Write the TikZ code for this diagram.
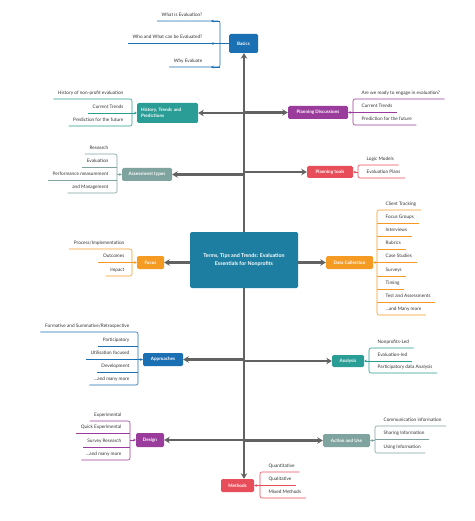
\documentclass[tikz,border=0pt]{standalone}
\usepackage{fontspec}
\setmainfont{Lato}
\usetikzlibrary{arrows.meta}

\definecolor{cblue}{HTML}{1B6FB3}
\definecolor{cteal}{HTML}{2A9D96}
\definecolor{cpurple}{HTML}{9A3C9C}
\definecolor{csage}{HTML}{7FA39F}
\definecolor{cred}{HTML}{E84E5A}
\definecolor{corange}{HTML}{F59A23}
\definecolor{chub}{HTML}{1E7EA1}
\definecolor{cspine}{HTML}{626262}
\definecolor{cleaf}{HTML}{333333}

\tikzset{
    topic/.style={rounded corners=1.5pt, fill=#1, text=white, inner sep=1pt,
        font=\fontsize{4.6}{5.6}\selectfont\bfseries, minimum height=13pt},
    leafL/.style={anchor=south east, inner xsep=4.5pt, inner ysep=3pt, text=cleaf,
        text height=3.6pt, text depth=1.5pt, font=\fontsize{4.7}{5.6}\selectfont},
    leafR/.style={leafL, anchor=south west},
    spine/.style={draw=cspine, line width=2.4pt, -{Stealth[length=5.5pt,width=6.5pt]}},
    twig/.style={draw=#1, line width=0.6pt, rounded corners=2pt},
    tip/.style={-{Stealth[length=2.6pt,width=2.8pt]}},
}

\begin{document}
\begin{tikzpicture}[x=1pt,y=-1pt]
    \useasboundingbox[fill=white] (0,0) rectangle (474,521);

    % centro
    \node[topic=chub, minimum width=108pt, minimum height=56pt, align=center,
        font=\fontsize{5.3}{7.4}\selectfont\bfseries] (hub) at (244,260)
        {Terms, Tips and Trends: Evaluation\\Essentials for Nonprofits};

    % ramas
    \node[topic=cblue, minimum width=29pt, minimum height=19pt] (basics) at (243.5,43.5) {Basics};
    \node[topic=cteal, text width=53pt, inner xsep=4pt, minimum height=20pt, align=left] (hist) at (167.5,113)
        {History, Trends and\\Predictions};
    \node[topic=cpurple, minimum width=60pt] (plandisc) at (318,112.5) {Planning Discussions};
    \node[topic=csage, minimum width=50pt] (assess) at (147,174.5) {Assessment types};
    \node[topic=cred, minimum width=46pt, minimum height=12pt] (tools) at (330,172) {Planning tools};
    \node[topic=corange, minimum width=27pt] (focus) at (150.5,262.5) {Focus};
    \node[topic=corange, minimum width=47pt] (datacol) at (349.5,262.5) {Data Collection};
    \node[topic=cblue, minimum width=40pt] (approach) at (163,359.5) {Approaches};
    \node[topic=cteal, minimum width=32pt, minimum height=12pt] (analysis) at (348,361) {Analysis};
    \node[topic=cpurple, minimum width=28pt, minimum height=14pt] (design) at (150,440) {Design};
    \node[topic=csage, minimum width=47pt] (action) at (346.5,440.5) {Action and Use};
    \node[topic=cred, minimum width=33pt] (methods) at (237.5,485.5) {Methods};

    % espina central
    \draw[spine] (hub.north) -- (hub.north |- basics.south);
    \draw[spine] (hub.south) -- (hub.south |- methods.north);
    \draw[spine] (hub.north |- hist) -- (hist);
    \draw[spine] (hub.north |- plandisc) -- (plandisc);
    \draw[spine] (hub.north |- assess) -- (assess);
    \draw[spine] (hub.north |- tools) -- (tools);
    \draw[spine] (hub.west |- focus) -- (focus);
    \draw[spine] (hub.east |- datacol) -- (datacol);
    \draw[spine] (hub.south |- approach) -- (approach);
    \draw[spine] (hub.south |- analysis) -- (analysis);
    \draw[spine] (hub.south |- design) -- (design);
    \draw[spine] (hub.south |- action) -- (action);

    % Basics
    \coordinate (bb) at (220,43.5);
    \node[leafL] (b1) at (207,21) {What is Evaluation?};
    \node[leafL] (b2) at (207,43.5) {Who and What can be Evaluated?};
    \node[leafL] (b3) at (207,67) {Why Evaluate};
    \draw[twig=cblue] (b1.south west) -| (bb) |- (b3.south west);
    \draw[twig=cblue] (b2.south west) -- (bb) -- (basics);
    \draw[twig=cblue, tip] (b1.south west -| bb) -- ++(-9,0);
    \draw[twig=cblue, tip] (bb) -- ++(-9,0);
    \draw[twig=cblue, tip] (b3.south west -| bb) -- ++(-9,0);

    % History, Trends and Predictions
    \coordinate (hb) at (132,113);
    \node[leafL] (h1) at (128,99) {History of non-profit evaluation};
    \node[leafL] (h2) at (128,113) {Current Trends};
    \node[leafL] (h3) at (128,126) {Prediction for the future};
    \draw[twig=cteal] (h1.south west) -| (hb) |- (h3.south west);
    \draw[twig=cteal] (h2.south west) -- (h2.south west -| hb);
    \draw[twig=cteal, tip] (hb) -- (hist);

    % Planning Discussions
    \coordinate (qb) at (353,112.5);
    \node[leafR] (q1) at (357,99) {Are we ready to engage in evaluation?};
    \node[leafR] (q2) at (357,112.5) {Current Trends};
    \node[leafR] (q3) at (357,125) {Prediction for the future};
    \draw[twig=cpurple] (q1.south east) -| (qb) |- (q3.south east);
    \draw[twig=cpurple] (q2.south east) -- (q2.south east -| qb);
    \draw[twig=cpurple, tip] (qb) -- (plandisc);

    % Assessment types
    \coordinate (ab) at (117,174.5);
    \node[leafL] (a1) at (113,154) {Research};
    \node[leafL] (a2) at (113,167) {Evaluation};
    \node[leafL] (a3) at (113,180) {Performance measurement};
    \node[leafL] (a4) at (113,193) {and Management};
    \draw[twig=csage] (a1.south west) -| (ab) |- (a4.south west);
    \draw[twig=csage] (a2.south west) -- (a2.south west -| ab);
    \draw[twig=csage] (a3.south west) -- (a3.south west -| ab);
    \draw[twig=csage, tip] (ab) -- (assess);

    % Planning tools
    \coordinate (tb) at (358,172);
    \node[leafR] (t1) at (362,165) {Logic Models};
    \node[leafR] (t2) at (362,178) {Evaluation Plans};
    \draw[twig=cred] (t1.south east) -| (tb) |- (t2.south east);
    \draw[twig=cred, tip] (tb) -- (tools);

    % Focus
    \coordinate (fb) at (132,262.5);
    \node[leafL] (f1) at (129,249) {Process/Implementation};
    \node[leafL] (f2) at (129,262.5) {Outcomes};
    \node[leafL] (f3) at (129,276) {Impact};
    \draw[twig=corange] (f1.south west) -| (fb) |- (f3.south west);
    \draw[twig=corange] (f2.south west) -- (f2.south west -| fb);
    \draw[twig=corange, tip] (fb) -- (focus);

    % Data Collection
    \coordinate (cb) at (377,262.5);
    \node[leafR] (c1) at (381,210) {Client Tracking};
    \node[leafR] (c2) at (381,223) {Focus Groups};
    \node[leafR] (c3) at (381,236) {Interviews};
    \node[leafR] (c4) at (381,249) {Rubrics};
    \node[leafR] (c5) at (381,262.5) {Case Studies};
    \node[leafR] (c6) at (381,276) {Surveys};
    \node[leafR] (c7) at (381,289) {Timing};
    \node[leafR] (c8) at (381,302) {Test and Assessments};
    \node[leafR] (c9) at (381,315) {...and Many more};
    \draw[twig=corange] (c1.south east) -| (cb) |- (c9.south east);
    \draw[twig=corange] (c2.south east) -- (c2.south east -| cb);
    \draw[twig=corange] (c3.south east) -- (c3.south east -| cb);
    \draw[twig=corange] (c4.south east) -- (c4.south east -| cb);
    \draw[twig=corange] (c5.south east) -- (c5.south east -| cb);
    \draw[twig=corange] (c6.south east) -- (c6.south east -| cb);
    \draw[twig=corange] (c7.south east) -- (c7.south east -| cb);
    \draw[twig=corange] (c8.south east) -- (c8.south east -| cb);
    \draw[twig=corange, tip] (cb) -- (datacol);

    % Approaches
    \coordinate (pb) at (138,359.5);
    \node[leafL] (p1) at (134,332) {Formative and Summative/Retrospective};
    \node[leafL] (p2) at (134,346) {Participatory};
    \node[leafL] (p3) at (134,359.5) {Utilisation focused};
    \node[leafL] (p4) at (134,372) {Development};
    \node[leafL] (p5) at (134,385) {...and many more};
    \draw[twig=cblue] (p1.south west) -| (pb) |- (p5.south west);
    \draw[twig=cblue] (p2.south west) -- (p2.south west -| pb);
    \draw[twig=cblue] (p3.south west) -- (p3.south west -| pb);
    \draw[twig=cblue] (p4.south west) -- (p4.south west -| pb);
    \draw[twig=cblue, tip] (pb) -- (approach);

    % Analysis
    \coordinate (nb) at (369,361);
    \node[leafR] (n1) at (373,348) {Nonprofits-Led};
    \node[leafR] (n2) at (373,361) {Evaluation-led};
    \node[leafR] (n3) at (373,373) {Participatory data Analysis};
    \draw[twig=cteal] (n1.south east) -| (nb) |- (n3.south east);
    \draw[twig=cteal] (n2.south east) -- (n2.south east -| nb);
    \draw[twig=cteal, tip] (nb) -- (analysis);

    % Design
    \coordinate (db) at (130,440);
    \node[leafL] (d1) at (126,421) {Experimental};
    \node[leafL] (d2) at (126,433) {Quick Experimental};
    \node[leafL] (d3) at (126,447) {Survey Research};
    \node[leafL] (d4) at (126,460) {...and many more};
    \draw[twig=cpurple] (d1.south west) -| (db) |- (d4.south west);
    \draw[twig=cpurple] (d2.south west) -- (d2.south west -| db);
    \draw[twig=cpurple] (d3.south west) -- (d3.south west -| db);
    \draw[twig=cpurple, tip] (db) -- (design);

    % Action and Use
    \coordinate (ub) at (375,440.5);
    \node[leafR] (u1) at (379,426) {Communication information};
    \node[leafR] (u2) at (379,439) {Sharing Information};
    \node[leafR] (u3) at (379,453) {Using Information};
    \draw[twig=csage] (u1.south east) -| (ub) |- (u3.south east);
    \draw[twig=csage] (u2.south east) -- (u2.south east -| ub);
    \draw[twig=csage, tip] (ub) -- (action);

    % Methods
    \coordinate (mb) at (260,485.5);
    \node[leafR] (m1) at (264,472) {Quantitative};
    \node[leafR] (m2) at (264,485.5) {Qualitative};
    \node[leafR] (m3) at (264,498) {Mixed Methods};
    \draw[twig=cred] (m1.south east) -| (mb) |- (m3.south east);
    \draw[twig=cred] (m2.south east) -- (m2.south east -| mb);
    \draw[twig=cred, tip] (mb) -- (methods);

\end{tikzpicture}
\end{document}
